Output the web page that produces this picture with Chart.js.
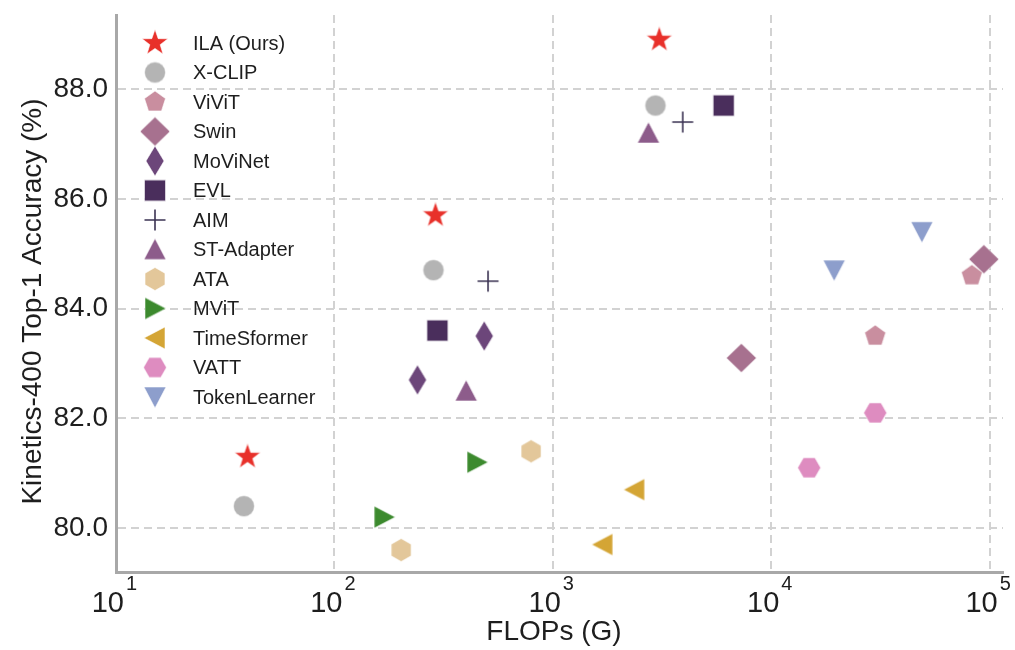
<!DOCTYPE html>
<html>
<head>
<meta charset="utf-8">
<script src="https://cdn.jsdelivr.net/npm/chart.js@4.4.0/dist/chart.umd.min.js"></script>
<style>
  html, body { margin: 0; padding: 0; background: #fff; }
  #wrap { width: 1015px; height: 650px; }
</style>
</head>
<body>
<div id="wrap"><canvas id="chart" width="1015" height="650"></canvas></div>
<script>
// values (FLOPs in G, Kinetics-400 top-1 %)
const methods = ['ILA (Ours)', 'X-CLIP', 'ViViT', 'Swin', 'MoViNet', 'EVL', 'AIM',
    'ST-Adapter', 'ATA', 'MViT', 'TimeSformer', 'VATT', 'TokenLearner'];

const ilaFlops = [40, 290, 3070];
const ilaAcc = [81.3, 85.7, 88.9];
const xclipFlops = [38.5, 284, 2950];
const xclipAcc = [80.4, 84.7, 87.7];
const vivitFlops = [29900, 82800];
const vivitAcc = [83.5, 84.6];
const swinFlops = [7290, 94000];
const swinAcc = [83.1, 84.9];
const movinetFlops = [240, 485];
const movinetAcc = [82.7, 83.5];
const evlFlops = [296, 6050];
const evlAcc = [83.6, 87.7];
const aimFlops = [505, 3930];
const aimAcc = [84.5, 87.4];
const stAdapterFlops = [401, 2740];
const stAdapterAcc = [82.5, 87.2];
const ataFlops = [202, 795];
const ataAcc = [79.6, 81.4];
const mvitFlops = [169, 450];
const mvitAcc = [80.2, 81.2];
const timesformerFlops = [1690, 2365];
const timesformerAcc = [79.7, 80.7];
const vattFlops = [14900, 29900];
const vattAcc = [81.1, 82.1];
const tokenLearnerFlops = [19400, 48900];
const tokenLearnerAcc = [84.7, 85.4];

const xTicks = [10, 100, 1000, 10000, 100000];
const yTicks = [80, 82, 84, 86, 88];

const FONT = '"Liberation Sans", Arial, Helvetica, sans-serif';

// marker images, drawn once and handed to Chart.js as pointStyle
function polygon(ctx, n, r, rot) {
    ctx.beginPath();
    for (let i = 0; i < n; i++) {
        const a = rot + i * 2 * Math.PI / n;
        const px = r * Math.cos(a), py = r * Math.sin(a);
        if (i === 0) ctx.moveTo(px, py); else ctx.lineTo(px, py);
    }
    ctx.closePath();
}

function makeMarker(shape, color) {
    const c = document.createElement('canvas');
    c.width = 36;
    c.height = 36;
    const ctx = c.getContext('2d');
    ctx.translate(18, 18);
    ctx.fillStyle = color;
    ctx.strokeStyle = 'rgba(255,255,255,0.7)';
    ctx.lineWidth = 0.8;
    const up = -Math.PI / 2;
    switch (shape) {
        case 'star': {
            ctx.beginPath();
            for (let i = 0; i < 10; i++) {
                const r = i % 2 === 0 ? 13.5 : 5.4;
                const a = up + i * Math.PI / 5;
                const px = r * Math.cos(a), py = r * Math.sin(a);
                if (i === 0) ctx.moveTo(px, py); else ctx.lineTo(px, py);
            }
            ctx.closePath();
            break;
        }
        case 'circle':
            ctx.beginPath();
            ctx.arc(0, 0, 10.5, 0, 2 * Math.PI);
            break;
        case 'pentagon':
            polygon(ctx, 5, 11, up);
            break;
        case 'diamond':
            ctx.beginPath();
            ctx.moveTo(0, -14.5); ctx.lineTo(15, 0); ctx.lineTo(0, 14.5); ctx.lineTo(-15, 0);
            ctx.closePath();
            break;
        case 'thinDiamond':
            ctx.beginPath();
            ctx.moveTo(0, -15); ctx.lineTo(9, 0); ctx.lineTo(0, 15); ctx.lineTo(-9, 0);
            ctx.closePath();
            break;
        case 'square':
            ctx.beginPath();
            ctx.rect(-10.5, -10.5, 21, 21);
            break;
        case 'plus':
            ctx.strokeStyle = color;
            ctx.lineWidth = 1.6;
            ctx.beginPath();
            ctx.moveTo(-10.5, 0); ctx.lineTo(10.5, 0);
            ctx.moveTo(0, -10.5); ctx.lineTo(0, 10.5);
            ctx.stroke();
            return c;
        case 'triUp':
            ctx.beginPath();
            ctx.moveTo(0, -11); ctx.lineTo(11, 10); ctx.lineTo(-11, 10);
            ctx.closePath();
            break;
        case 'triDown':
            ctx.beginPath();
            ctx.moveTo(0, 11); ctx.lineTo(11, -10); ctx.lineTo(-11, -10);
            ctx.closePath();
            break;
        case 'triRight':
            ctx.beginPath();
            ctx.moveTo(11, 0); ctx.lineTo(-10, -11); ctx.lineTo(-10, 11);
            ctx.closePath();
            break;
        case 'triLeft':
            ctx.beginPath();
            ctx.moveTo(-11, 0); ctx.lineTo(10, -11); ctx.lineTo(10, 11);
            ctx.closePath();
            break;
        case 'hexV':
            polygon(ctx, 6, 11.5, up);
            break;
        case 'hexH':
            polygon(ctx, 6, 11.5, 0);
            break;
    }
    ctx.fill();
    ctx.stroke();
    return c;
}

const styles = [
    ['star', '#e8302a'],
    ['circle', '#b4b4b4'],
    ['pentagon', '#c98e9f'],
    ['diamond', '#a7718f'],
    ['thinDiamond', '#6c467a'],
    ['square', '#4a2e5c'],
    ['plus', '#3b3353'],
    ['triUp', '#8d5c8b'],
    ['hexV', '#e3c79a'],
    ['triRight', '#3c8a2e'],
    ['triLeft', '#d4a535'],
    ['hexH', '#de8cc0'],
    ['triDown', '#8d9ecc'],
];

const series = [
    [ilaFlops, ilaAcc], [xclipFlops, xclipAcc], [vivitFlops, vivitAcc], [swinFlops, swinAcc],
    [movinetFlops, movinetAcc], [evlFlops, evlAcc], [aimFlops, aimAcc], [stAdapterFlops, stAdapterAcc],
    [ataFlops, ataAcc], [mvitFlops, mvitAcc], [timesformerFlops, timesformerAcc], [vattFlops, vattAcc],
    [tokenLearnerFlops, tokenLearnerAcc],
];

const datasets = methods.map((name, i) => {
    const [xs, ys] = series[i];
    const marker = makeMarker(styles[i][0], styles[i][1]);
    return {
        label: name,
        data: xs.map((x, j) => ({ x: x, y: ys[j] })),
        pointStyle: marker,
        pointRadius: 11,
        backgroundColor: styles[i][1],
        borderColor: styles[i][1],
        order: -i,
    };
});

// legend, axis titles and power-of-ten labels drawn by hand
const decorPlugin = {
    id: 'decor',
    afterDraw(chart) {
        const ctx = chart.ctx;
        const area = chart.chartArea;
        const xs = chart.scales.x;
        ctx.save();
        ctx.fillStyle = '#1e1e1e';

        // legend inside the plot
        ctx.font = '20px ' + FONT;
        ctx.textAlign = 'left';
        ctx.textBaseline = 'middle';
        chart.data.datasets.forEach((ds, i) => {
            const y = 43 + i * 29.5;
            const img = ds.pointStyle;
            ctx.drawImage(img, 155 - img.width / 2, y - img.height / 2);
            ctx.fillText(ds.label, 193, y + 1);
        });

        // x tick labels as 10^n
        xTicks.forEach(v => {
            const px = xs.getPixelForValue(v);
            const exp = Math.round(Math.log10(v));
            ctx.font = '29px ' + FONT;
            ctx.textAlign = 'right';
            ctx.textBaseline = 'alphabetic';
            ctx.fillText('10', px + 8, 612);
            ctx.font = '20px ' + FONT;
            ctx.textAlign = 'left';
            ctx.fillText(String(exp), px + 10, 590);
        });

        // axis titles
        ctx.font = '28px ' + FONT;
        ctx.textAlign = 'center';
        ctx.textBaseline = 'middle';
        ctx.fillText('FLOPs (G)', 554, 632);
        ctx.translate(33, (area.top + area.bottom) / 2 + 8);
        ctx.rotate(-Math.PI / 2);
        ctx.fillText('Kinetics-400 Top-1 Accuracy (%)', 0, 0);
        ctx.restore();
    },
};

const gridColor = '#d2d2d2';
const spineColor = '#a8a8a8';

new Chart(document.getElementById('chart'), {
    type: 'scatter',
    data: { datasets: datasets },
    plugins: [decorPlugin],
    options: {
        responsive: false,
        animation: false,
        layout: { padding: { top: 15, right: 10, left: 0, bottom: 0 } },
        plugins: {
            legend: { display: false },
            tooltip: { enabled: false },
        },
        scales: {
            x: {
                type: 'logarithmic',
                min: 10,
                max: 115000,
                afterBuildTicks: scale => {
                    scale.ticks = xTicks.map(v => ({ value: v }));
                },
                afterFit: scale => {
                    scale.height = 78;
                    scale.paddingLeft = 0;
                    scale.paddingRight = 0;
                },
                ticks: { display: false },
                grid: {
                    color: gridColor,
                    lineWidth: 2,
                    drawTicks: false,
                },
                border: {
                    display: true,
                    color: spineColor,
                    width: 3,
                    dash: [8, 5],
                },
            },
            y: {
                min: 79.2,
                max: 89.35,
                afterBuildTicks: scale => {
                    scale.ticks = yTicks.map(v => ({ value: v }));
                },
                afterFit: scale => {
                    scale.width = 116;
                    scale.paddingTop = 0;
                    scale.paddingBottom = 0;
                },
                ticks: {
                    font: { family: FONT, size: 28 },
                    color: '#1e1e1e',
                    padding: 8,
                    callback: v => Number(v).toFixed(1),
                },
                grid: {
                    color: gridColor,
                    lineWidth: 2,
                    drawTicks: false,
                },
                border: {
                    display: true,
                    color: spineColor,
                    width: 3,
                    dash: [8, 5],
                },
            },
        },
    },
});
</script>
</body>
</html>
